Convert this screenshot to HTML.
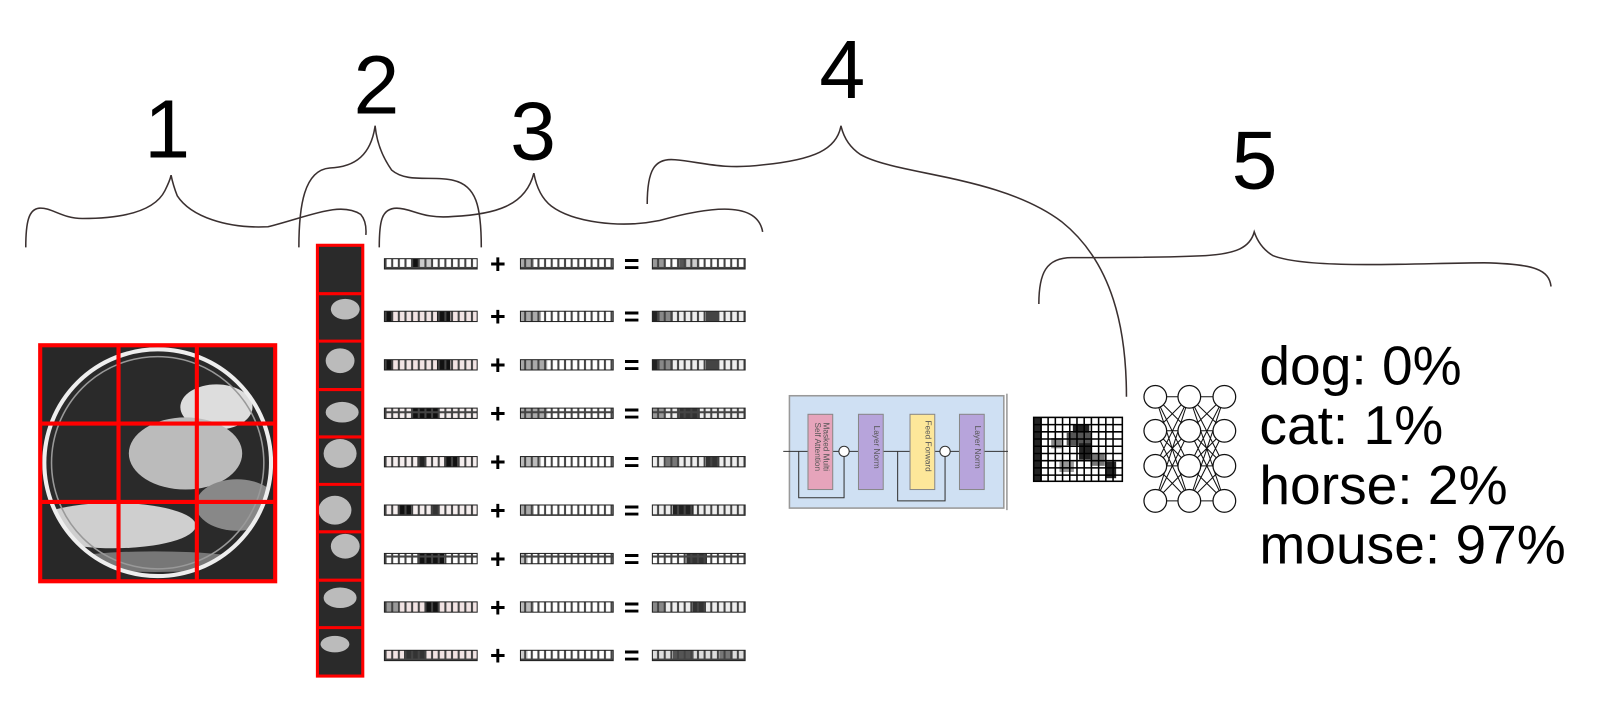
<!DOCTYPE html>
<html><head><meta charset="utf-8"><style>
html,body{margin:0;padding:0;background:#fff;}
svg{display:block;font-family:"Liberation Sans",sans-serif;}
</style></head><body>
<svg width="1616" height="716" viewBox="0 0 1616 716" xmlns="http://www.w3.org/2000/svg">
<defs>
<pattern id="cells" x="0" y="0" width="6.45" height="20" patternUnits="userSpaceOnUse">
<rect x="0.5" y="0.5" width="5.45" height="19" fill="none" stroke="#444" stroke-width="1"/>
</pattern>
<clipPath id="circ"><circle cx="153" cy="449" r="110"/></clipPath>
</defs>
<g transform="scale(1.0306)">
<g font-size="80" fill="#000">
<text x="140" y="153">1</text>
<text x="343" y="110">2</text>
<text x="495" y="155">3</text>
<text x="795" y="95">4</text>
<text x="1195" y="183">5</text>
</g>
<g fill="none" stroke="#3a3030" stroke-width="1.5">
<path d="M25,240 C25,215 28,203 38,202 C50,201 60,212 80,212 C120,212 150,205 160,185 Q165,175 166,170 Q168,180 172,190 C185,210 220,222 260,220 C300,210 330,195 350,208 Q356,215 355,228"/>
<path d="M290,240 C290,200 295,165 320,163 C345,162 360,150 364,122 Q366,145 380,165 C395,178 420,170 440,175 C462,180 467,200 467,240"/>
<path d="M368,240 C368,215 370,202 385,202 C400,202 410,213 440,210 C480,208 510,200 518,168 Q522,190 535,200 C555,215 600,222 640,214 C690,200 735,195 740,225"/>
<path d="M628,198 C628,165 635,153 655,155 C680,157 700,165 740,160 C790,155 812,145 816,122 Q820,140 835,150 C870,170 970,170 1030,215 C1080,255 1093,320 1093,385"/>
<path d="M1008,295 C1008,265 1015,250 1040,250 C1080,250 1130,250 1170,248 C1200,246 1213,240 1217,225 Q1222,240 1235,248 C1270,262 1380,255 1440,255 C1490,256 1503,262 1505,278"/>
</g>
<rect x="38" y="334" width="230" height="231" fill="#282828"/>
<g clip-path="url(#circ)">
<circle cx="153" cy="449" r="110" fill="#2a2a2a"/>
<ellipse cx="210" cy="395" rx="35" ry="22" fill="#ddd"/>
<ellipse cx="180" cy="440" rx="55" ry="35" fill="#bbb"/>
<ellipse cx="230" cy="490" rx="40" ry="25" fill="#888"/>
<ellipse cx="110" cy="510" rx="80" ry="22" fill="#cfcfcf"/>
<ellipse cx="150" cy="545" rx="90" ry="10" fill="#777"/>
<ellipse cx="210" cy="340" rx="20" ry="12" fill="#ccc"/>
</g>
<circle cx="153" cy="449" r="110" fill="none" stroke="#eee" stroke-width="4"/>
<circle cx="153" cy="449" r="103" fill="none" stroke="#999" stroke-width="1.5"/>
<g stroke="#f00" stroke-width="4" fill="none">
<rect x="39" y="335" width="228" height="229"/>
<line x1="115" y1="335" x2="115" y2="564"/>
<line x1="191" y1="335" x2="191" y2="564"/>
<line x1="39" y1="411" x2="267" y2="411"/>
<line x1="39" y1="487" x2="267" y2="487"/>
</g>
<rect x="308" y="238" width="44" height="419" fill="#2a2a2a"/>
<g fill="#bbb">
<ellipse cx="335" cy="300" rx="14" ry="10"/>
<ellipse cx="330" cy="350" rx="14" ry="12"/>
<ellipse cx="332" cy="400" rx="16" ry="10"/>
<ellipse cx="330" cy="440" rx="16" ry="14"/>
<ellipse cx="325" cy="495" rx="16" ry="14"/>
<ellipse cx="335" cy="530" rx="14" ry="12"/>
<ellipse cx="330" cy="580" rx="16" ry="10"/>
<ellipse cx="325" cy="625" rx="14" ry="8"/>
</g>
<g stroke="#f00" stroke-width="3" fill="none">
<rect x="308" y="238" width="44" height="418"/>
<line x1="308" y1="285" x2="352" y2="285"/>
<line x1="308" y1="331" x2="352" y2="331"/>
<line x1="308" y1="378" x2="352" y2="378"/>
<line x1="308" y1="424" x2="352" y2="424"/>
<line x1="308" y1="470" x2="352" y2="470"/>
<line x1="308" y1="516" x2="352" y2="516"/>
<line x1="308" y1="563" x2="352" y2="563"/>
<line x1="308" y1="609" x2="352" y2="609"/>
</g>
<g>
<g transform="translate(0,251)">
<rect x="373" y="0" width="90" height="10" fill="#fff"/><rect x="399" y="0" width="7" height="10" fill="#111"/><rect x="406" y="0" width="13" height="10" fill="#ccc"/>
<rect x="505" y="0" width="90" height="10" fill="#fff"/><rect x="505" y="0" width="13" height="10" fill="#aaa"/>
<rect x="633" y="0" width="90" height="10" fill="#fff"/><rect x="633" y="0" width="13" height="10" fill="#999"/><rect x="659" y="0" width="7" height="10" fill="#555"/><rect x="666" y="0" width="13" height="10" fill="#ccc"/>
</g>
<g transform="translate(0,302)">
<rect x="373" y="0" width="90" height="10" fill="#f2e4e4"/><rect x="373" y="0" width="7" height="10" fill="#111"/><rect x="424" y="0" width="13" height="10" fill="#111"/>
<rect x="505" y="0" width="90" height="10" fill="#fff"/><rect x="505" y="0" width="20" height="10" fill="#aaa"/>
<rect x="633" y="0" width="90" height="10" fill="#eee"/><rect x="633" y="0" width="7" height="10" fill="#222"/><rect x="640" y="0" width="13" height="10" fill="#888"/><rect x="685" y="0" width="13" height="10" fill="#444"/>
</g>
<g transform="translate(0,349)">
<rect x="373" y="0" width="90" height="10" fill="#f2e4e4"/><rect x="373" y="0" width="7" height="10" fill="#111"/><rect x="424" y="0" width="13" height="10" fill="#111"/>
<rect x="505" y="0" width="90" height="10" fill="#fff"/><rect x="505" y="0" width="26" height="10" fill="#aaa"/>
<rect x="633" y="0" width="90" height="10" fill="#eee"/><rect x="633" y="0" width="7" height="10" fill="#222"/><rect x="640" y="0" width="13" height="10" fill="#888"/><rect x="685" y="0" width="13" height="10" fill="#444"/>
</g>
<g transform="translate(0,396)">
<rect x="373" y="0" width="90" height="10" fill="#f5eeee"/><rect x="399" y="0" width="26" height="10" fill="#111"/>
<rect x="505" y="0" width="90" height="10" fill="#fff"/><rect x="505" y="0" width="26" height="10" fill="#aaa"/>
<rect x="633" y="0" width="90" height="10" fill="#eee"/><rect x="633" y="0" width="13" height="10" fill="#999"/><rect x="659" y="0" width="20" height="10" fill="#333"/>
</g>
<g transform="translate(0,443)">
<rect x="373" y="0" width="90" height="10" fill="#f5eeee"/><rect x="405" y="0" width="7" height="10" fill="#222"/><rect x="431" y="0" width="13" height="10" fill="#111"/>
<rect x="505" y="0" width="90" height="10" fill="#fff"/><rect x="505" y="0" width="20" height="10" fill="#bbb"/>
<rect x="633" y="0" width="90" height="10" fill="#eee"/><rect x="646" y="0" width="13" height="10" fill="#777"/><rect x="685" y="0" width="13" height="10" fill="#333"/>
</g>
<g transform="translate(0,490)">
<rect x="373" y="0" width="90" height="10" fill="#f5eeee"/><rect x="386" y="0" width="13" height="10" fill="#111"/><rect x="418" y="0" width="7" height="10" fill="#333"/>
<rect x="505" y="0" width="90" height="10" fill="#fff"/><rect x="505" y="0" width="13" height="10" fill="#aaa"/>
<rect x="633" y="0" width="90" height="10" fill="#eee"/><rect x="653" y="0" width="20" height="10" fill="#222"/>
</g>
<g transform="translate(0,537)">
<rect x="373" y="0" width="90" height="10" fill="#fff"/><rect x="405" y="0" width="26" height="10" fill="#111"/>
<rect x="505" y="0" width="90" height="10" fill="#fff"/><rect x="505" y="0" width="7" height="10" fill="#bbb"/>
<rect x="633" y="0" width="90" height="10" fill="#fff"/><rect x="666" y="0" width="20" height="10" fill="#333"/>
</g>
<g transform="translate(0,584)">
<rect x="373" y="0" width="90" height="10" fill="#f2e4e4"/><rect x="373" y="0" width="13" height="10" fill="#999"/><rect x="412" y="0" width="13" height="10" fill="#111"/>
<rect x="505" y="0" width="90" height="10" fill="#fff"/><rect x="505" y="0" width="13" height="10" fill="#bbb"/>
<rect x="633" y="0" width="90" height="10" fill="#eee"/><rect x="633" y="0" width="13" height="10" fill="#888"/><rect x="672" y="0" width="13" height="10" fill="#333"/>
</g>
<g transform="translate(0,631)">
<rect x="373" y="0" width="90" height="10" fill="#f2e4e4"/><rect x="392" y="0" width="20" height="10" fill="#333"/>
<rect x="505" y="0" width="90" height="10" fill="#fff"/><rect x="505" y="0" width="7" height="10" fill="#ccc"/>
<rect x="633" y="0" width="90" height="10" fill="#ddd"/><rect x="653" y="0" width="20" height="10" fill="#555"/><rect x="698" y="0" width="13" height="10" fill="#777"/>
</g>
</g>
<g fill="url(#cells)" stroke="#222" stroke-width="1">
<rect x="373" y="251" width="90" height="10"/><rect x="505" y="251" width="90" height="10"/><rect x="633" y="251" width="90" height="10"/>
<rect x="373" y="302" width="90" height="10"/><rect x="505" y="302" width="90" height="10"/><rect x="633" y="302" width="90" height="10"/>
<rect x="373" y="349" width="90" height="10"/><rect x="505" y="349" width="90" height="10"/><rect x="633" y="349" width="90" height="10"/>
<rect x="373" y="396" width="90" height="10"/><rect x="505" y="396" width="90" height="10"/><rect x="633" y="396" width="90" height="10"/>
<rect x="373" y="443" width="90" height="10"/><rect x="505" y="443" width="90" height="10"/><rect x="633" y="443" width="90" height="10"/>
<rect x="373" y="490" width="90" height="10"/><rect x="505" y="490" width="90" height="10"/><rect x="633" y="490" width="90" height="10"/>
<rect x="373" y="537" width="90" height="10"/><rect x="505" y="537" width="90" height="10"/><rect x="633" y="537" width="90" height="10"/>
<rect x="373" y="584" width="90" height="10"/><rect x="505" y="584" width="90" height="10"/><rect x="633" y="584" width="90" height="10"/>
<rect x="373" y="631" width="90" height="10"/><rect x="505" y="631" width="90" height="10"/><rect x="633" y="631" width="90" height="10"/>
</g>
<g font-size="26" font-weight="bold" fill="#000" text-anchor="middle">
<text x="483" y="265">+</text><text x="613" y="265">=</text>
<text x="483" y="316">+</text><text x="613" y="316">=</text>
<text x="483" y="363">+</text><text x="613" y="363">=</text>
<text x="483" y="410">+</text><text x="613" y="410">=</text>
<text x="483" y="457">+</text><text x="613" y="457">=</text>
<text x="483" y="504">+</text><text x="613" y="504">=</text>
<text x="483" y="551">+</text><text x="613" y="551">=</text>
<text x="483" y="598">+</text><text x="613" y="598">=</text>
<text x="483" y="645">+</text><text x="613" y="645">=</text>
</g>
<rect x="766" y="384" width="208" height="109" fill="#cfe0f3" stroke="#999" stroke-width="1.5"/>
<line x1="977" y1="382" x2="977" y2="495" stroke="#999" stroke-width="1.5"/>
<g stroke="#333" stroke-width="1" fill="none">
<line x1="760" y1="438" x2="978" y2="438"/>
<polyline points="775,438 775,483 819,483 819,443"/>
<polyline points="871,438 871,486 917,486 917,443"/>
</g>
<rect x="784" y="402" width="24" height="73" fill="#e6a4bb" stroke="#888"/>
<rect x="833" y="402" width="24" height="73" fill="#b7a4db" stroke="#888"/>
<rect x="883" y="402" width="24" height="73" fill="#fde79a" stroke="#888"/>
<rect x="931" y="402" width="24" height="73" fill="#b7a4db" stroke="#888"/>
<circle cx="819" cy="438" r="5" fill="#fff" stroke="#333"/>
<circle cx="917" cy="438" r="5" fill="#fff" stroke="#333"/>
<g font-size="8" fill="#555">
<text transform="translate(799,410) rotate(90)">Masked Multi</text>
<text transform="translate(791,410) rotate(90)">Self Attention</text>
<text transform="translate(848,413) rotate(90)">Layer Norm</text>
<text transform="translate(898,408) rotate(90)">Feed Forward</text>
<text transform="translate(946,413) rotate(90)">Layer Norm</text>
</g>
<rect x="1003" y="405" width="86" height="62" fill="#fff"/>
<g fill="#222"><rect x="1003" y="405" width="8" height="62"/><rect x="1041" y="412" width="16" height="8"/><rect x="1035" y="420" width="24" height="12" fill="#555"/><rect x="1047" y="430" width="12" height="16"/><rect x="1058" y="440" width="14" height="12" fill="#777"/><rect x="1073" y="448" width="10" height="16"/><rect x="1020" y="425" width="10" height="10" fill="#888"/><rect x="1028" y="448" width="14" height="10" fill="#999"/></g>
<g stroke="#000" stroke-width="1.5" fill="none">
<rect x="1003" y="405" width="86" height="62"/>
<path d="M1010,405V467M1017,405V467M1024,405V467M1031,405V467M1038,405V467M1045,405V467M1052,405V467M1059,405V467M1066,405V467M1073,405V467M1080,405V467M1003,412H1089M1003,419H1089M1003,426H1089M1003,433H1089M1003,440H1089M1003,447H1089M1003,454H1089M1003,461H1089"/>
</g>
<g stroke="#111" stroke-width="1" fill="none">
<path d="M1121,385L1154,385M1121,385L1154,418M1121,385L1154,452M1121,385L1154,486M1121,418L1154,385M1121,418L1154,418M1121,418L1154,452M1121,418L1154,486M1121,452L1154,385M1121,452L1154,418M1121,452L1154,452M1121,452L1154,486M1121,486L1154,385M1121,486L1154,418M1121,486L1154,452M1121,486L1154,486"/>
<path d="M1154,385L1188,385M1154,385L1188,418M1154,385L1188,452M1154,385L1188,486M1154,418L1188,385M1154,418L1188,418M1154,418L1188,452M1154,418L1188,486M1154,452L1188,385M1154,452L1188,418M1154,452L1188,452M1154,452L1188,486M1154,486L1188,385M1154,486L1188,418M1154,486L1188,452M1154,486L1188,486"/>
</g>
<g fill="#fff" stroke="#111" stroke-width="1.2">
<circle cx="1121" cy="385" r="11"/><circle cx="1121" cy="418" r="11"/><circle cx="1121" cy="452" r="11"/><circle cx="1121" cy="486" r="11"/>
<circle cx="1154" cy="385" r="11"/><circle cx="1154" cy="418" r="11"/><circle cx="1154" cy="452" r="11"/><circle cx="1154" cy="486" r="11"/>
<circle cx="1188" cy="385" r="11"/><circle cx="1188" cy="418" r="11"/><circle cx="1188" cy="452" r="11"/><circle cx="1188" cy="486" r="11"/>
</g>
<g font-size="53.5" fill="#000">
<text x="1222" y="373">dog: 0%</text>
<text x="1222" y="431">cat: 1%</text>
<text x="1222" y="489">horse: 2%</text>
<text x="1222" y="547">mouse: 97%</text>
</g>
</g>
</svg>
</body></html>
